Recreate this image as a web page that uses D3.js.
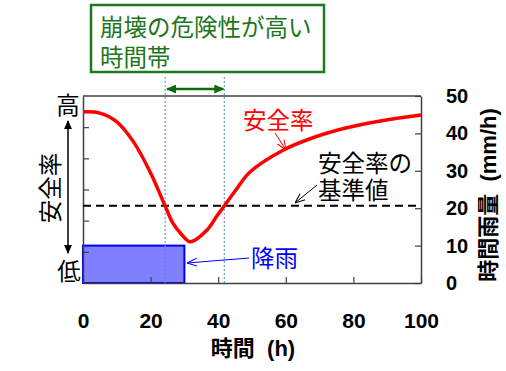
<!DOCTYPE html>
<html>
<head>
<meta charset="utf-8">
<script src="https://cdn.jsdelivr.net/npm/d3@7"></script>
<style>
  body { margin: 0; background: #fff; }
  svg { display: block; }
  text { font-family: "Liberation Sans", "Noto Sans CJK JP", sans-serif; }
</style>
</head>
<body>
<svg id="chart"></svg>
<script>
// safety factor curve (hours vs. relative safety, left axis 0-60, unlabeled)
const hours  = [0, 5, 10, 15, 20, 24.3, 26.6, 29.3, 31.7, 36.7, 39.6, 42, 45, 49.4, 59.2, 68, 78, 88, 100];
const safety = [54.9, 54.5, 51.7, 45.2, 35.3, 24.7, 19.2, 15.4, 13.2, 17.0, 21.5, 25.0, 29.5, 35.6, 42.6, 46.6, 49.8, 52.0, 53.9];

// rainfall block (mm/h)
const rainStart = [0];
const rainEnd = [30];
const rainValue = [10];

// reference safety level and danger window (hours)
const baseline = 24.8;
const dangerWindow = [24.3, 41.8];

const xTicks = [0, 20, 40, 60, 80, 100];
const rainTicks = [0, 10, 20, 30, 40, 50];
const safetyTicks = [10, 20, 30, 40, 50];

const width = 506, height = 371;
const svg = d3.select("#chart").attr("width", width).attr("height", height);

const x = d3.scaleLinear().domain([0, 100]).range([83, 421]);
const yR = d3.scaleLinear().domain([0, 50]).range([283, 96]);
const yL = d3.scaleLinear().domain([0, 60]).range([283, 96]);

// markers
const defs = svg.append("defs");
function filledHead(id, color, w, l) {
  defs.append("marker").attr("id", id)
    .attr("viewBox", "0 0 10 10").attr("refX", 9).attr("refY", 5)
    .attr("markerUnits", "userSpaceOnUse")
    .attr("markerWidth", l).attr("markerHeight", w)
    .attr("preserveAspectRatio", "none")
    .attr("orient", "auto-start-reverse")
    .append("path").attr("d", "M0,0L10,5L0,10Z").attr("fill", color);
}
function openHead(id, color) {
  defs.append("marker").attr("id", id)
    .attr("viewBox", "0 0 10 10").attr("refX", 10).attr("refY", 5)
    .attr("markerWidth", 10).attr("markerHeight", 10)
    .attr("markerUnits", "userSpaceOnUse")
    .attr("orient", "auto")
    .append("path").attr("d", "M0,1L10,5L0,9").attr("fill", "none")
    .attr("stroke", color).attr("stroke-width", 1);
}
filledHead("headBlack", "#000", 8, 9);
filledHead("headGreen", "#0b6b0b", 9, 10);
openHead("openRed", "#ff0000");
openHead("openBlack", "#000");
openHead("openBlue", "#0000ff");

// rain bar
svg.selectAll(".rain")
  .data(rainValue)
  .enter().append("rect")
  .attr("class", "rain")
  .attr("x", (d, i) => x(rainStart[i]))
  .attr("y", d => yR(d))
  .attr("width", (d, i) => x(rainEnd[i]) - x(rainStart[i]))
  .attr("height", d => yR(0) - yR(d))
  .attr("fill", "#8080ff")
  .attr("stroke", "#0000ee")
  .attr("stroke-width", 2);

// axes
const bottomAxis = svg.append("g")
  .attr("transform", `translate(0,${yR(0)})`)
  .call(d3.axisBottom(x).tickValues(xTicks).tickSizeInner(-6).tickSizeOuter(0).tickPadding(30));
bottomAxis.selectAll("text")
  .attr("font-size", 21).attr("font-weight", "bold").attr("fill", "#000")
  .style("font-family", "'Liberation Sans', Arial, sans-serif");

svg.append("g")
  .attr("transform", `translate(${x(0)},0)`)
  .call(d3.axisLeft(yL).tickValues(safetyTicks).tickSizeInner(-6).tickSizeOuter(0).tickFormat(""));

const rightAxis = svg.append("g")
  .attr("transform", `translate(${x(100)},0)`)
  .call(d3.axisRight(yR).tickValues(rainTicks).tickSizeInner(-6).tickSizeOuter(0).tickPadding(25));
rightAxis.selectAll("text")
  .attr("font-size", 20).attr("font-weight", "bold").attr("fill", "#000")
  .style("font-family", "'Liberation Sans', Arial, sans-serif");

svg.selectAll(".domain").attr("stroke", "#404040").attr("stroke-width", 1.5);
svg.selectAll(".tick line").attr("stroke", "#404040").attr("stroke-width", 1.2);

// top frame
svg.append("line")
  .attr("x1", x(0)).attr("x2", x(100)).attr("y1", yR(50)).attr("y2", yR(50))
  .attr("stroke", "#404040").attr("stroke-width", 1.5);

// danger window guides
svg.selectAll(".guide")
  .data(dangerWindow)
  .enter().append("line")
  .attr("x1", d => x(d)).attr("x2", d => x(d))
  .attr("y1", 77).attr("y2", yR(0))
  .attr("stroke", "#4a8fd0").attr("stroke-width", 1)
  .attr("stroke-dasharray", "2,2");

// baseline
svg.append("line")
  .attr("x1", x(0)).attr("x2", x(100))
  .attr("y1", yL(baseline)).attr("y2", yL(baseline))
  .attr("stroke", "#000").attr("stroke-width", 2)
  .attr("stroke-dasharray", "8,5");

// safety curve
const curve = d3.line()
  .x((d, i) => x(hours[i]))
  .y(d => yL(d))
  .curve(d3.curveCatmullRom.alpha(0.5));
svg.append("path")
  .datum(safety)
  .attr("d", curve)
  .attr("fill", "none")
  .attr("stroke", "#ff0000")
  .attr("stroke-width", 3.5);

// green double arrow for danger window
svg.append("line")
  .attr("x1", x(dangerWindow[0]) + 2).attr("x2", x(dangerWindow[1]) - 1)
  .attr("y1", 89).attr("y2", 89)
  .attr("stroke", "#0b6b0b").attr("stroke-width", 2.5)
  .attr("marker-start", "url(#headGreen)")
  .attr("marker-end", "url(#headGreen)");

// green box
svg.append("rect")
  .attr("x", 91).attr("y", 5).attr("width", 233).attr("height", 67)
  .attr("fill", "#fff").attr("stroke", "#1f7a1f").attr("stroke-width", 2.5);
const cjk = "'Noto Sans CJK JP', sans-serif";
svg.append("text").attr("x", 100).attr("y", 26)
  .attr("dominant-baseline", "central")
  .attr("font-size", 23.5).attr("fill", "#1d751d").style("font-family", cjk)
  .text("崩壊の危険性が高い");
svg.append("text").attr("x", 100).attr("y", 56)
  .attr("dominant-baseline", "central")
  .attr("font-size", 23.5).attr("fill", "#1d751d").style("font-family", cjk)
  .text("時間帯");

// annotations
function label(tx, ty, txt, color, anchor) {
  svg.append("text").attr("x", tx).attr("y", ty)
    .attr("dominant-baseline", "central")
    .attr("text-anchor", anchor || "start")
    .attr("font-size", 23.5).attr("fill", color).style("font-family", cjk)
    .text(txt);
}
label(243, 119, "安全率", "#ff0000");
svg.append("line").attr("x1", 275).attr("y1", 133).attr("x2", 286).attr("y2", 150)
  .attr("stroke", "#ff0000").attr("stroke-width", 1).attr("marker-end", "url(#openRed)");

label(318, 162, "安全率の", "#000");
label(318, 189, "基準値", "#000");
svg.append("line").attr("x1", 317).attr("y1", 185).attr("x2", 295).attr("y2", 203)
  .attr("stroke", "#000").attr("stroke-width", 1).attr("marker-end", "url(#openBlack)");

label(251, 257, "降雨", "#0000ff");
svg.append("line").attr("x1", 249).attr("y1", 258).attr("x2", 187).attr("y2", 263)
  .attr("stroke", "#0000ff").attr("stroke-width", 1).attr("marker-end", "url(#openBlue)");

// left axis description
label(68, 104, "高", "#000", "middle");
label(69, 270, "低", "#000", "middle");
svg.append("line").attr("x1", 68).attr("x2", 68).attr("y1", 121).attr("y2", 253)
  .attr("stroke", "#000").attr("stroke-width", 1.5)
  .attr("marker-start", "url(#headBlack)")
  .attr("marker-end", "url(#headBlack)");
svg.append("text")
  .attr("transform", "translate(49,188) rotate(-90)")
  .attr("text-anchor", "middle").attr("dominant-baseline", "central")
  .attr("font-size", 23.5).attr("fill", "#000").style("font-family", cjk)
  .text("安全率");

// axis titles
svg.append("text")
  .attr("x", 253).attr("y", 348)
  .attr("text-anchor", "middle").attr("dominant-baseline", "central")
  .attr("font-size", 22).attr("font-weight", "bold").attr("fill", "#000")
  .style("white-space", "pre")
  .text("時間  (h)");
svg.append("text")
  .attr("transform", "translate(488,195) rotate(-90)")
  .attr("text-anchor", "middle").attr("dominant-baseline", "central")
  .attr("font-size", 22).attr("font-weight", "bold").attr("fill", "#000")
  .style("white-space", "pre")
  .text("時間雨量  (mm/h)");
</script>
</body>
</html>
